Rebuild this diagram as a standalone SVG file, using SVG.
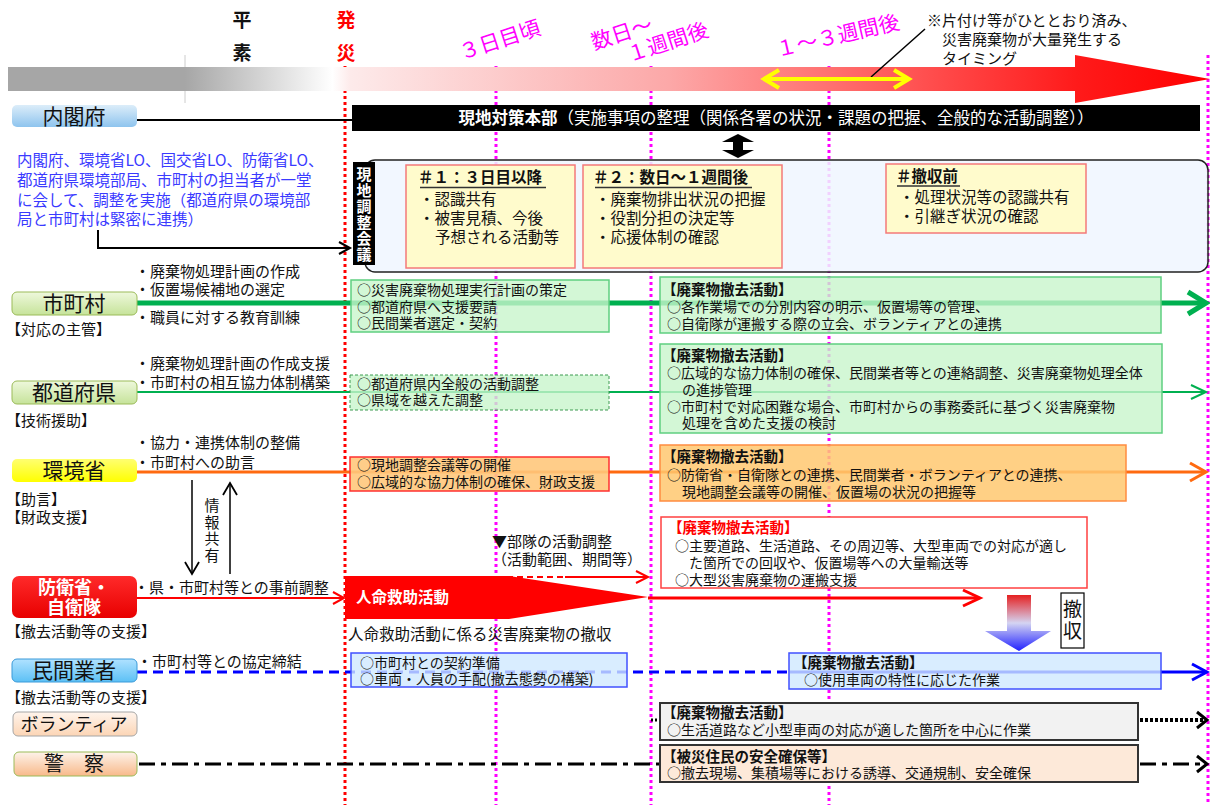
<svg xmlns="http://www.w3.org/2000/svg" width="1210" height="805" viewBox="0 0 1210 805">
<defs>
<style>
text{font-family:"Noto Sans CJK JP","Noto Sans CJK SC",sans-serif;fill:#111}
.lb{font-size:15px}
.bx{font-size:14px}
.bt{font-size:14.5px;font-weight:bold}
.hb{font-size:15.5px}
.hbt{font-size:15.5px;font-weight:bold}
.lab{font-size:21px;text-anchor:middle}
.mag{font-size:21px;fill:#ff00ff}
.blue{font-size:15.5px;fill:#3a3aff}
.vt{writing-mode:vertical-rl;text-orientation:upright}
.vdot{stroke-width:3;stroke-dasharray:3 3;fill:none}
.chev{fill:none;stroke-linejoin:miter}
</style>
<linearGradient id="gBar" gradientUnits="userSpaceOnUse" x1="8" y1="0" x2="1210" y2="0">
<stop offset="0" stop-color="#a6a6a6"/>
<stop offset="0.147" stop-color="#a6a6a6"/>
<stop offset="0.27" stop-color="#ffffff"/>
<stop offset="0.285" stop-color="#fdeaea"/>
<stop offset="0.55" stop-color="#fca8a8"/>
<stop offset="0.66" stop-color="#ff7a7a"/>
<stop offset="0.89" stop-color="#ff1a1a"/>
<stop offset="1" stop-color="#ff0000"/>
</linearGradient>
<linearGradient id="gCab" x1="0" y1="0" x2="0" y2="1"><stop offset="0" stop-color="#dcedf9"/><stop offset="1" stop-color="#8ec4ee"/></linearGradient>
<linearGradient id="gCity" x1="0" y1="0" x2="0" y2="1"><stop offset="0" stop-color="#eef8dc"/><stop offset="1" stop-color="#c6e39a"/></linearGradient>
<linearGradient id="gEnv" x1="0" y1="0" x2="0" y2="1"><stop offset="0" stop-color="#ffff70"/><stop offset="1" stop-color="#ffff00"/></linearGradient>
<linearGradient id="gDef" x1="0" y1="0" x2="0" y2="1"><stop offset="0" stop-color="#ff2a2a"/><stop offset="1" stop-color="#e80000"/></linearGradient>
<linearGradient id="gPriv" x1="0" y1="0" x2="0" y2="1"><stop offset="0" stop-color="#b0e2ff"/><stop offset="1" stop-color="#5cc0f5"/></linearGradient>
<linearGradient id="gVol" x1="0" y1="0" x2="0" y2="1"><stop offset="0" stop-color="#fff4ec"/><stop offset="1" stop-color="#fcd5b5"/></linearGradient>
<linearGradient id="gPol" x1="0" y1="0" x2="0" y2="1"><stop offset="0" stop-color="#fdf3ea"/><stop offset="1" stop-color="#f8b98a"/></linearGradient>
<linearGradient id="gDown" x1="0" y1="0" x2="0" y2="1"><stop offset="0" stop-color="#e52020"/><stop offset="0.5" stop-color="#d4d4f2"/><stop offset="1" stop-color="#2020ff"/></linearGradient>
</defs>

<g id="timeline">
<line x1="185" y1="55" x2="185" y2="103" stroke="#cccccc" stroke-width="1"/>
<g id="vlines">
<line class="vdot" x1="345" y1="66" x2="345" y2="805" stroke="#ff0000"/>
<line class="vdot" x1="496" y1="66" x2="496" y2="805" stroke="#ff00ff"/>
<line class="vdot" x1="651" y1="66" x2="651" y2="805" stroke="#ff00ff"/>
<line class="vdot" x1="829" y1="66" x2="829" y2="805" stroke="#ff00ff"/>
<line class="vdot" x1="1208" y1="55" x2="1208" y2="805" stroke="#ff00ff"/>
</g>
<polygon points="8,67 1075,67 1075,55 1210,79 1075,103 1075,91 8,91" fill="url(#gBar)"/>
<text x="242" y="27" style="font-size:19px;font-weight:bold;text-anchor:middle">平</text>
<text x="242" y="60" style="font-size:19px;font-weight:bold;text-anchor:middle">素</text>
<text x="346" y="27" style="font-size:19px;font-weight:bold;text-anchor:middle;fill:#ff0000">発</text>
<text x="346" y="60" style="font-size:19px;font-weight:bold;text-anchor:middle;fill:#ff0000">災</text>
<text class="mag" x="462" y="60" transform="rotate(-18 462 60)">３日目頃</text>
<text class="mag" x="594" y="50" transform="rotate(-18 594 50)">数日～</text>
<text class="mag" x="630" y="62" transform="rotate(-18 630 62)">１週間後</text>
<text class="mag" x="778" y="57" transform="rotate(-13 778 57)">１～３週間後</text>
<text x="927" y="26" style="font-size:15px">※片付け等がひととおり済み、</text>
<text x="942" y="45" style="font-size:15px">災害廃棄物が大量発生する</text>
<text x="942" y="64" style="font-size:15px">タイミング</text>
<line x1="925" y1="29" x2="871" y2="77" stroke="#000" stroke-width="1.5"/>
<g stroke="#ffff00" stroke-width="4" fill="none">
<line x1="766" y1="79" x2="906" y2="79"/>
<polyline points="779,70 764,79 779,88"/>
<polyline points="894,70 909,79 894,88"/>
</g>
</g>

<g id="connectors">
<line x1="137" y1="120" x2="352" y2="120" stroke="#000" stroke-width="2"/>
<polygon points="738,134 754,142 743,142 743,150 754,150 738,158 722,150 733,150 733,142 722,142" fill="#000"/>
<polyline points="98,230 98,248 349,248" fill="none" stroke="#000" stroke-width="2"/>
<polyline class="chev" points="339,242 350,248 339,254" stroke="#000" stroke-width="2"/>
<line x1="137" y1="303" x2="1203" y2="303" stroke="#00b050" stroke-width="5"/>
<polyline class="chev" points="1188,292 1206,303 1188,314" stroke="#00b050" stroke-width="5"/>
<line x1="137" y1="392" x2="1205" y2="392" stroke="#00b050" stroke-width="2"/>
<polyline class="chev" points="1191,385 1206,392 1191,399" stroke="#00b050" stroke-width="2"/>
<line x1="137" y1="472" x2="1205" y2="472" stroke="#ff6a10" stroke-width="3"/>
<polyline class="chev" points="1190,463 1206,472 1190,481" stroke="#ff6a10" stroke-width="3"/>
<line x1="192" y1="480" x2="192" y2="573" stroke="#000" stroke-width="1.5"/>
<polyline class="chev" points="185,562 192,574 199,562" stroke="#000" stroke-width="1.8"/>
<line x1="230" y1="574" x2="230" y2="485" stroke="#000" stroke-width="1.5"/>
<polyline class="chev" points="223,495 230,483 237,495" stroke="#000" stroke-width="1.8"/>
<line x1="137" y1="598" x2="343" y2="598" stroke="#ff0000" stroke-width="2"/>
<polyline class="chev" points="333,592 344,598 333,604" stroke="#ff0000" stroke-width="2"/>
<line x1="507" y1="577" x2="565" y2="577" stroke="#ff0000" stroke-width="2" stroke-dasharray="6 4"/>
<line x1="565" y1="577" x2="647" y2="577" stroke="#ff0000" stroke-width="2"/>
<polyline class="chev" points="636,571 648,577 636,583" stroke="#ff0000" stroke-width="2"/>
<line x1="648" y1="598" x2="978" y2="598" stroke="#ff0000" stroke-width="3"/>
<polyline class="chev" points="963,590 980,598 963,606" stroke="#ff0000" stroke-width="3"/>
<line x1="137" y1="672" x2="790" y2="672" stroke="#0000ff" stroke-width="3" stroke-dasharray="10 6"/>
<line x1="790" y1="672" x2="1205" y2="672" stroke="#0000ff" stroke-width="3"/>
<polyline class="chev" points="1192,664 1207,672 1192,680" stroke="#0000ff" stroke-width="3"/>
<line x1="651" y1="720" x2="660" y2="720" stroke="#000" stroke-width="3" stroke-dasharray="2 2"/>
<line x1="1140" y1="720" x2="1204" y2="720" stroke="#000" stroke-width="4" stroke-dasharray="3 2"/>
<polyline class="chev" points="1197,712 1207,720 1197,728" stroke="#000" stroke-width="3"/>
<line x1="139" y1="764" x2="660" y2="764" stroke="#000" stroke-width="3" stroke-dasharray="16 6 5 6"/>
<line x1="1140" y1="764" x2="1204" y2="764" stroke="#000" stroke-width="3" stroke-dasharray="16 6 5 6"/>
<polyline class="chev" points="1197,756 1207,764 1197,772" stroke="#000" stroke-width="3"/>
</g>

<g id="cabinet">
<rect x="12" y="105" width="125" height="22" rx="5" fill="url(#gCab)"/>
<text class="lab" x="74" y="124">内閣府</text>
</g>

<g id="hq">
<rect x="352" y="105" width="848" height="26" fill="#000"/>
<text x="776" y="124" style="font-size:16.5px;text-anchor:middle;fill:#fff"><tspan font-weight="bold">現地対策本部</tspan>（実施事項の整理（関係各署の状況・課題の把握、全般的な活動調整））</text>
</g>

<g id="liaison-note">
<text class="blue" x="17" y="166">内閣府、環境省LO、国交省LO、防衛省LO、</text>
<text class="blue" x="17" y="186">都道府県環境部局、市町村の担当者が一堂</text>
<text class="blue" x="17" y="206">に会して、調整を実施（都道府県の環境部</text>
<text class="blue" x="17" y="225">局と市町村は緊密に連携）</text>
</g>

<g id="meeting">
<rect x="365" y="160" width="843" height="112" rx="10" fill="#f0f6ff" fill-opacity="0.85" stroke="#222" stroke-width="1.5"/>
<rect x="353" y="162" width="22" height="103" fill="#000"/>
<text class="vt" x="364" y="167" style="font-size:15px;font-weight:bold;fill:#fff;letter-spacing:1px">現地調整会議</text>
</g>

<g id="phase1">
<rect x="406" y="165" width="169" height="103" fill="#fffbcc" stroke="#f47a7a" stroke-width="1.5"/>
<text class="hbt" x="418" y="183">＃１：３日目以降</text>
<line x1="420" y1="187.5" x2="546" y2="187.5" stroke="#333" stroke-width="1.5"/>
<text class="hb" x="419" y="205">・認識共有</text>
<text class="hb" x="419" y="224">・被害見積、今後</text>
<text class="hb" x="435" y="243">予想される活動等</text>
</g>

<g id="phase2">
<rect x="583" y="165" width="199" height="103" fill="#fffbcc" stroke="#f47a7a" stroke-width="1.5"/>
<text class="hbt" x="593" y="183">＃２：数日～１週間後</text>
<line x1="595" y1="187.5" x2="752" y2="187.5" stroke="#333" stroke-width="1.5"/>
<text class="hb" x="595" y="205">・廃棄物排出状況の把握</text>
<text class="hb" x="595" y="224">・役割分担の決定等</text>
<text class="hb" x="595" y="243">・応援体制の確認</text>
</g>

<g id="phase3">
<rect x="886" y="164" width="200" height="69" fill="#fffbcc" stroke="#f47a7a" stroke-width="1.5"/>
<text class="hbt" x="896" y="182">＃撤収前</text>
<line x1="897" y1="186" x2="960" y2="186" stroke="#333" stroke-width="1.5"/>
<text class="hb" x="899" y="203">・処理状況等の認識共有</text>
<text class="hb" x="899" y="222">・引継ぎ状況の確認</text>
</g>

<g id="municipality">
<rect x="12" y="292" width="125" height="23" rx="5" fill="url(#gCity)" stroke="#9bbb59"/>
<text class="lab" x="74" y="311">市町村</text>
<text class="lb" x="135" y="277">・廃棄物処理計画の作成</text>
<text class="lb" x="135" y="295">・仮置場候補地の選定</text>
<text class="lb" x="135" y="323">・職員に対する教育訓練</text>
<text class="lb" x="6" y="335">【対応の主管】</text>
<rect x="351" y="280" width="258" height="52" fill="#c8f5cc" fill-opacity="0.8" stroke="#5fcf80" stroke-width="1.5"/>
<text class="bx" x="357" y="295">○災害廃棄物処理実行計画の策定</text>
<text class="bx" x="357" y="312">○都道府県へ支援要請</text>
<text class="bx" x="357" y="328">○民間業者選定・契約</text>
<rect x="660" y="277" width="501" height="56" fill="#c8f5cc" fill-opacity="0.8" stroke="#5fcf80" stroke-width="1.5"/>
<text class="bt" x="662" y="295">【廃棄物撤去活動】</text>
<text class="bx" x="667" y="312">○各作業場での分別内容の明示、仮置場等の管理、</text>
<text class="bx" x="667" y="329">○自衛隊が運搬する際の立会、ボランティアとの連携</text>
</g>

<g id="prefecture">
<rect x="12" y="381" width="125" height="23" rx="5" fill="url(#gCity)" stroke="#9bbb59"/>
<text class="lab" x="74" y="400">都道府県</text>
<text class="lb" x="135" y="369">・廃棄物処理計画の作成支援</text>
<text class="lb" x="135" y="388">・市町村の相互協力体制構築</text>
<text class="lb" x="6" y="426">【技術援助】</text>
<rect x="350" y="375" width="259" height="35" fill="#c8f5cc" fill-opacity="0.8" stroke="#3c9a50" stroke-width="1" stroke-dasharray="3 2"/>
<text class="bx" x="357" y="389">○都道府県内全般の活動調整</text>
<text class="bx" x="357" y="405">○県域を越えた調整</text>
<rect x="660" y="344" width="502" height="89" fill="#c8f5cc" fill-opacity="0.8" stroke="#5fcf80" stroke-width="1.5"/>
<text class="bt" x="662" y="361">【廃棄物撤去活動】</text>
<text class="bx" x="667" y="378">○広域的な協力体制の確保、民間業者等との連絡調整、災害廃棄物処理全体</text>
<text class="bx" x="682" y="395">の進捗管理</text>
<text class="bx" x="667" y="412">○市町村で対応困難な場合、市町村からの事務委託に基づく災害廃棄物</text>
<text class="bx" x="682" y="428">処理を含めた支援の検討</text>
</g>

<g id="environment">
<rect x="12" y="459" width="125" height="23" rx="5" fill="url(#gEnv)"/>
<text class="lab" x="74" y="478">環境省</text>
<text class="lb" x="135" y="448">・協力・連携体制の整備</text>
<text class="lb" x="135" y="468">・市町村への助言</text>
<text class="lb" x="6" y="505">【助言】</text>
<text class="lb" x="6" y="523">【財政支援】</text>
<text class="vt" x="212" y="498" style="font-size:15px;letter-spacing:1.5px">情報共有</text>
<rect x="350" y="457" width="259" height="34" fill="#ffc87c" fill-opacity="0.9" stroke="#ff3030" stroke-width="1.5"/>
<text class="bx" x="357" y="470">○現地調整会議等の開催</text>
<text class="bx" x="357" y="487">○広域的な協力体制の確保、財政支援</text>
<rect x="660" y="445" width="466" height="56" fill="#ffc870" fill-opacity="0.85" stroke="#ff8c40" stroke-width="1.5"/>
<text class="bt" x="662" y="462">【廃棄物撤去活動】</text>
<text class="bx" x="667" y="480">○防衛省・自衛隊との連携、民間業者・ボランティアとの連携、</text>
<text class="bx" x="682" y="497">現地調整会議等の開催、仮置場の状況の把握等</text>
</g>

<g id="defense">
<rect x="12" y="576" width="125" height="42" rx="7" fill="url(#gDef)"/>
<text x="74" y="594" style="font-size:18px;font-weight:bold;fill:#fff;text-anchor:middle">防衛省・</text>
<text x="74" y="614" style="font-size:18px;font-weight:bold;fill:#fff;text-anchor:middle">自衛隊</text>
<text class="lb" x="134" y="593">・県・市町村等との事前調整</text>
<text class="lb" x="6" y="637">【撤去活動等の支援】</text>
<polygon points="345,576 509,576 648,597 509,619 345,619" fill="#ff0000"/>
<text x="356" y="603" style="font-size:15.5px;font-weight:bold;fill:#fff">人命救助活動</text>
<text class="hb" x="348" y="640">人命救助活動に係る災害廃棄物の撤収</text>
<text class="lb" x="492" y="547">▼部隊の活動調整</text>
<text class="lb" x="492" y="565">（活動範囲、期間等）</text>
<rect x="661" y="517" width="426" height="71" fill="#ffffff" stroke="#ff4040" stroke-width="1.5"/>
<text class="bt" x="668" y="533" style="fill:#ff0000">【廃棄物撤去活動】</text>
<text class="bx" x="675" y="551">○主要道路、生活道路、その周辺等、大型車両での対応が適し</text>
<text class="bx" x="689" y="568">た箇所での回収や、仮置場等への大量輸送等</text>
<text class="bx" x="675" y="585">○大型災害廃棄物の運搬支援</text>
<polygon points="1007,595 1031,595 1031,631 1051,631 1019,651 985,631 1007,631" fill="url(#gDown)"/>
<rect x="1061" y="593" width="23" height="55" fill="#fff" stroke="#000" stroke-width="1.2"/>
<text class="vt" x="1072.5" y="599" style="font-size:19px;letter-spacing:3px">撤収</text>
</g>

<g id="private">
<rect x="12" y="659" width="125" height="23" rx="5" fill="url(#gPriv)" stroke="#3a9ad9"/>
<text class="lab" x="74" y="678">民間業者</text>
<text class="lb" x="137" y="667">・市町村等との協定締結</text>
<text class="lb" x="6" y="703">【撤去活動等の支援】</text>
<rect x="351" y="653" width="276" height="34" fill="#cfe8ff" fill-opacity="0.8" stroke="#4050ff" stroke-width="1.5"/>
<text class="bx" x="360" y="668">○市町村との契約準備</text>
<text class="bx" x="360" y="684">○車両・人員の手配(撤去態勢の構築)</text>
<rect x="789" y="653" width="372" height="36" fill="#cfe8ff" fill-opacity="0.8" stroke="#4050ff" stroke-width="1.5"/>
<text class="bt" x="793" y="668">【廃棄物撤去活動】</text>
<text class="bx" x="804" y="685">○使用車両の特性に応じた作業</text>
</g>

<g id="volunteer">
<rect x="13" y="712" width="124" height="24" rx="5" fill="url(#gVol)" stroke="#a6a6a6"/>
<text x="74" y="731" style="font-size:18px;text-anchor:middle">ボランティア</text>
<rect x="660" y="703" width="478" height="37" fill="#f2f2f2" stroke="#333" stroke-width="2"/>
<text class="bt" x="662" y="718">【廃棄物撤去活動】</text>
<text class="bx" x="667" y="735">○生活道路など小型車両の対応が適した箇所を中心に作業</text>
</g>

<g id="police">
<rect x="14" y="752" width="123" height="24" rx="5" fill="url(#gPol)" stroke="#9bbb59"/>
<text x="74" y="771" style="font-size:20px;text-anchor:middle">警　察</text>
<rect x="660" y="745" width="478" height="37" fill="#fde9d9" stroke="#333" stroke-width="2"/>
<text class="bt" x="662" y="762">【被災住民の安全確保等】</text>
<text class="bx" x="667" y="778">○撤去現場、集積場等における誘導、交通規制、安全確保</text>
</g>
</svg>
